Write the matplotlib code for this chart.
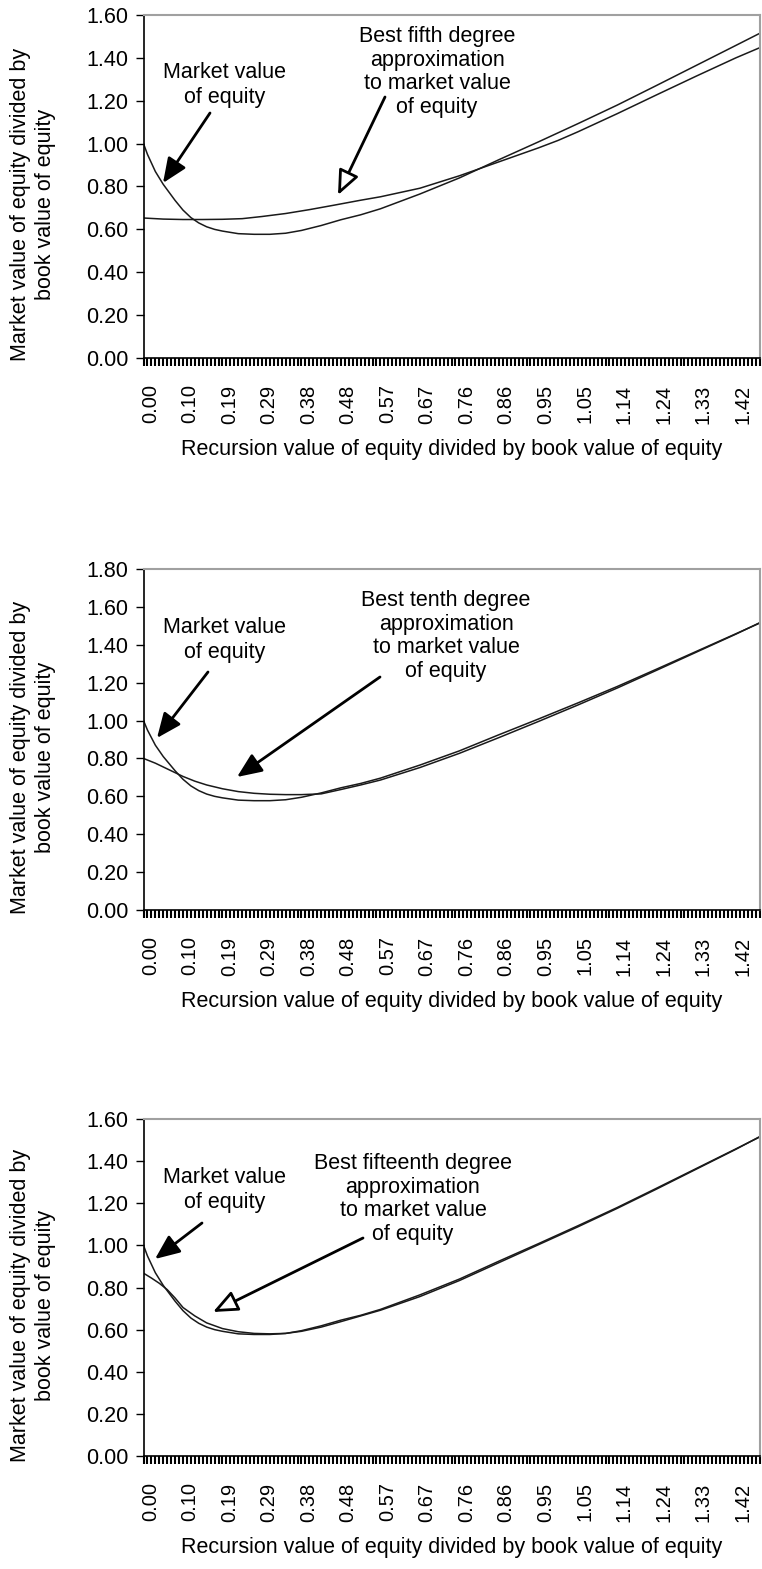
import matplotlib
matplotlib.use('Agg')
import matplotlib.pyplot as plt
import matplotlib.transforms as mtransforms

plt.rcParams['font.family'] = ['Liberation Sans', 'DejaVu Sans']

# ---------------- data ----------------
n_categories = 157
label_every = 10
tick_labels = ['0.00', '0.10', '0.19', '0.29', '0.38', '0.48', '0.57', '0.67',
               '0.76', '0.86', '0.95', '1.05', '1.14', '1.24', '1.33', '1.42']

# market value of equity / book value (category index, value)
mv_x = [0, 1, 2, 3, 4, 5, 6, 8, 10, 12, 14, 16, 18, 20, 24, 28, 32, 36, 40, 45,
        50, 55, 60, 70, 80, 90, 100, 110, 120, 130, 140, 150, 156]
mv_y = [1.00, 0.95, 0.91, 0.87, 0.84, 0.81, 0.785, 0.735, 0.69, 0.655, 0.63, 0.612,
        0.60, 0.592, 0.580, 0.577, 0.577, 0.582, 0.595, 0.618, 0.645, 0.668, 0.696,
        0.765, 0.84, 0.925, 1.008, 1.093, 1.18, 1.272, 1.365, 1.458, 1.514]

# best fifth degree approximation
p5_x = [0, 5, 10, 15, 20, 25, 30, 36, 42, 48, 55, 60, 70, 80, 90, 100, 105, 110,
        120, 130, 140, 150, 156]
p5_y = [0.653, 0.648, 0.646, 0.646, 0.647, 0.650, 0.66, 0.674, 0.692, 0.712, 0.736,
        0.752, 0.792, 0.85, 0.915, 0.98, 1.015, 1.055, 1.14, 1.228, 1.315, 1.40, 1.447]

# best tenth degree approximation
p10_x = [0, 3, 6, 8, 10, 13, 16, 20, 24, 28, 32, 36, 40, 45, 50, 55, 60, 70, 80,
         90, 100, 110, 120, 130, 140, 150, 156]
p10_y = [0.80, 0.775, 0.745, 0.725, 0.705, 0.68, 0.66, 0.64, 0.625, 0.616, 0.611,
         0.609, 0.609, 0.613, 0.636, 0.66, 0.686, 0.752, 0.827, 0.91, 0.995, 1.082,
         1.172, 1.266, 1.361, 1.456, 1.516]

# best fifteenth degree approximation
p15_x = [0, 2, 4, 6, 8, 10, 13, 16, 20, 24, 28, 32, 36, 40, 45, 50, 60, 70, 80,
         90, 100, 110, 120, 130, 140, 150, 156]
p15_y = [0.868, 0.845, 0.82, 0.79, 0.75, 0.705, 0.665, 0.632, 0.605, 0.59, 0.582,
         0.580, 0.582, 0.592, 0.612, 0.638, 0.692, 0.757, 0.833, 0.918, 1.003, 1.088,
         1.176, 1.268, 1.362, 1.456, 1.516]

y_max = [1.60, 1.80, 1.60]
degree_names = ['fifth', 'tenth', 'fifteenth']

# ---------------- layout ----------------
W, H = 762, 1569
fig = plt.figure(figsize=(W / 100, H / 100), dpi=100)
FS = 15.5
FS_X = 14.5

panels = [
    dict(top=15, bottom=358, px=p5_x, py=p5_y,
         mv_text=(225, 85), mv_arrow=((210, 113), (163, 183)),
         ap_text=(437, 72), ap_arrow=((385, 97), (338, 195)), hollow=True),
    dict(top=569, bottom=910, px=p10_x, py=p10_y,
         mv_text=(225, 640), mv_arrow=((208, 672), (157, 738)),
         ap_text=(446, 636), ap_arrow=((380, 677), (237, 777)), hollow=False),
    dict(top=1119, bottom=1456, px=p15_x, py=p15_y,
         mv_text=(225, 1190), mv_arrow=((202, 1223), (155, 1259)),
         ap_text=(413, 1199), ap_arrow=((363, 1238), (213, 1312)), hollow=True),
]

left_px, right_px = 143.5, 759.5
offset = mtransforms.ScaledTranslation(7 / 100, 0, fig.dpi_scale_trans)

for i, p in enumerate(panels):
    ax = fig.add_axes([left_px / W, 1 - p['bottom'] / H,
                       (right_px - left_px) / W, (p['bottom'] - p['top']) / H])
    ax.plot(mv_x, mv_y, color='#1a1a1a', lw=1.1, solid_joinstyle='round')
    ax.plot(p['px'], p['py'], color='#1a1a1a', lw=1.1, solid_joinstyle='round')
    ax.set_xlim(0, n_categories - 1)
    ax.set_ylim(0, y_max[i])

    ymax = y_max[i]
    yt = [round(k * 0.2, 2) for k in range(int(round(ymax / 0.2)) + 1)]
    ax.set_yticks(yt)
    ax.set_yticklabels(['%.2f' % v for v in yt], fontsize=FS)

    ax.set_xticks(range(n_categories))
    labs = []
    for k in range(n_categories):
        if k % label_every == 0 and k // label_every < len(tick_labels):
            labs.append(tick_labels[k // label_every])
        else:
            labs.append('')
    ax.set_xticklabels(labs, rotation=90, fontsize=FS_X, va='top', ha='center')

    ax.tick_params(axis='x', direction='out', length=6, width=1.5, pad=13,
                   color='black')
    ax.tick_params(axis='y', direction='out', length=6, width=1.0, pad=5,
                   color='black')
    for lab in ax.get_xticklabels():
        lab.set_transform(lab.get_transform() + offset)

    ax.spines['left'].set_color('black')
    ax.spines['bottom'].set_color('black')
    ax.spines['left'].set_linewidth(1.2)
    ax.spines['bottom'].set_linewidth(1.2)
    ax.spines['top'].set_color('#a0a0a0')
    ax.spines['right'].set_color('#a0a0a0')
    ax.spines['top'].set_linewidth(1.5)
    ax.spines['right'].set_linewidth(1.5)

    hpx = p['bottom'] - p['top']
    ax.set_xlabel('Recursion value of equity divided by book value of equity',
                  fontsize=FS)
    ax.xaxis.set_label_coords(0.5, -(439 - 358) / hpx)
    ax.xaxis.label.set_va('top')

    ax.text((33 - left_px) / (right_px - left_px),
            1 - ((p['top'] + p['bottom']) / 2 + 18 - p['top']) / hpx,
            'Market value of equity divided by\nbook value of equity',
            transform=ax.transAxes, rotation=90, ha='center', va='center',
            multialignment='center', fontsize=FS)

    # annotations
    fig.text(p['mv_text'][0] / W, 1 - p['mv_text'][1] / H,
             'Market value\nof equity', ha='center', va='center',
             multialignment='center', fontsize=FS)
    fig.text(p['ap_text'][0] / W, 1 - p['ap_text'][1] / H,
             'Best %s degree\napproximation\nto market value\nof equity' % degree_names[i],
             ha='center', va='center', multialignment='center', fontsize=FS,
             linespacing=1.15)

    (sx, sy), (tx, ty) = p['mv_arrow']
    ax.annotate('', xy=(tx, H - ty), xytext=(sx, H - sy),
                xycoords='figure pixels', textcoords='figure pixels',
                arrowprops=dict(arrowstyle='-|>,head_length=0.75,head_width=0.32',
                                mutation_scale=20, lw=2.0, color='black',
                                shrinkA=0, shrinkB=0))
    (sx, sy), (tx, ty) = p['ap_arrow']
    ax.annotate('', xy=(tx, H - ty), xytext=(sx, H - sy),
                xycoords='figure pixels', textcoords='figure pixels',
                arrowprops=dict(arrowstyle='-|>,head_length=0.75,head_width=0.32',
                                mutation_scale=20, lw=2.0, ec='black',
                                fc='white' if p['hollow'] else 'black',
                                shrinkA=0, shrinkB=0))

fig.savefig('out.png', dpi=100, facecolor='white')
